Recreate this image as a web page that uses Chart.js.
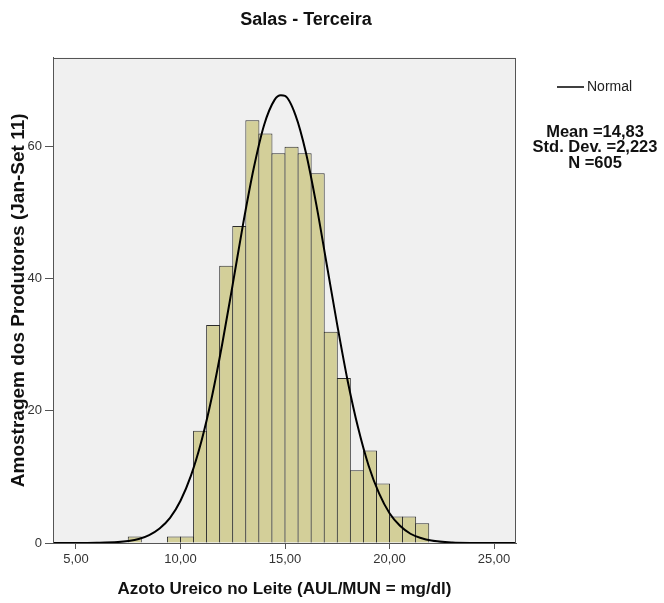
<!DOCTYPE html>
<html>
<head>
<meta charset="utf-8">
<script src="https://cdn.jsdelivr.net/npm/chart.js@4.4.0/dist/chart.umd.min.js"></script>
<style>
  html, body { margin: 0; padding: 0; background: #fff; }
</style>
</head>
<body>
<canvas id="histChart" width="664" height="603"></canvas>
<script>
// Histogram bins (lower edge of each bin, bin width 0.625)
const binWidth = 0.625;
const binStarts = [7.5, 9.375, 10, 10.625, 11.25, 11.875, 12.5, 13.125, 13.75, 14.375,
                   15, 15.625, 16.25, 16.875, 17.5, 18.125, 18.75, 19.375, 20, 20.625, 21.25];
const binCounts = [1, 1, 1, 17, 33, 42, 48, 64, 62, 59,
                   60, 59, 56, 32, 25, 11, 14, 9, 4, 4, 3];

// Normal curve
const curveX = [3.9, 5, 6, 7, 7.5, 8, 8.5, 9, 9.5, 10, 10.5, 11, 11.5, 12, 12.5, 13, 13.5, 14, 14.5, 14.8,
                15, 15.5, 16, 16.5, 17, 17.5, 18, 18.5, 19, 19.5, 20, 20.5, 21, 21.5, 22, 23, 24, 25, 26];
const curveY = [0, 0, 0.03, 0.14, 0.3, 0.6, 1.2, 2.2, 3.8, 6.4, 10.2, 15.4, 22.1, 30.2, 39.2, 48.4, 56.7, 63.3, 67.1, 67.8,
                67.7, 64.8, 59.1, 51.2, 42.1, 33.0, 24.5, 17.4, 11.7, 7.5, 4.5, 2.6, 1.4, 0.75, 0.37, 0.08, 0.01, 0, 0];

// Axis ticks
const xTickValues = [5, 10, 15, 20, 25];
const xTickLabels = ['5,00', '10,00', '15,00', '20,00', '25,00'];
const yTickValues = [0, 20, 40, 60];
const yTickLabels = ['0', '20', '40', '60'];

// Text on the right
const legendLabel = 'Normal';
const statsLines = ['Mean =14,83', 'Std. Dev. =2,223', 'N =605'];

const FONT = "'Liberation Sans', Arial, sans-serif";
const AXIS_COLOR = '#555';

const plotFrame = {
    id: 'plotFrame',
    beforeDraw(chart) {
        const { ctx, chartArea: a } = chart;
        ctx.save();
        ctx.fillStyle = '#f0f0f0';
        ctx.fillRect(a.left, a.top, a.right - a.left, a.bottom - a.top);
        ctx.restore();
    },
    afterDatasetsDraw(chart) {
        const { ctx, chartArea: a } = chart;
        ctx.save();
        ctx.strokeStyle = AXIS_COLOR;
        ctx.lineWidth = 1;
        ctx.strokeRect(Math.round(a.left) + 0.5, Math.round(a.top) + 0.5,
                       Math.round(a.right - a.left) - 1, Math.round(a.bottom - a.top));
        ctx.restore();
    },
    afterDraw(chart) {
        const { ctx } = chart;
        ctx.save();
        // legend sample
        ctx.strokeStyle = '#000';
        ctx.lineWidth = 1.5;
        ctx.beginPath();
        ctx.moveTo(557, 87);
        ctx.lineTo(584, 87);
        ctx.stroke();
        ctx.fillStyle = '#222';
        ctx.font = '14px ' + FONT;
        ctx.textBaseline = 'middle';
        ctx.textAlign = 'left';
        ctx.fillText(legendLabel, 587, 87);
        // stats
        ctx.fillStyle = '#111';
        ctx.font = 'bold 16.5px ' + FONT;
        ctx.textAlign = 'center';
        statsLines.forEach((t, i) => ctx.fillText(t, 595, 132 + i * 15.5));
        ctx.restore();
    }
};

const ctx = document.getElementById('histChart').getContext('2d');

const chart = new Chart(ctx, {
    type: 'bar',
    data: {
        datasets: [
            {
                type: 'line',
                label: legendLabel,
                data: curveX.map((x, i) => ({ x: x, y: curveY[i] })),
                borderColor: '#000',
                borderWidth: 2,
                pointRadius: 0,
                fill: false,
                cubicInterpolationMode: 'monotone',
                order: 0
            },
            {
                type: 'bar',
                label: 'Amostragem',
                data: binStarts.map((s, i) => ({ x: s + binWidth / 2, y: binCounts[i] })),
                backgroundColor: '#d3cf99',
                borderColor: '#2b2b2b',
                borderWidth: 1,
                barPercentage: 1.076,
                categoryPercentage: 1,
                order: 1
            }
        ]
    },
    plugins: [plotFrame],
    options: {
        responsive: false,
        animation: false,
        layout: {
            padding: { left: 0, right: 52, top: 0, bottom: 0 }
        },
        plugins: {
            legend: { display: false },
            tooltip: { enabled: false },
            title: {
                display: true,
                text: 'Salas - Terceira',
                color: '#111',
                font: { family: FONT, size: 18, weight: 'bold' },
                padding: { top: 9, bottom: 27 }
            }
        },
        scales: {
            x: {
                type: 'linear',
                min: 3.9,
                max: 26.05,
                offset: false,
                grid: { offset: false, drawOnChartArea: false, drawTicks: true, tickLength: 6, color: AXIS_COLOR },
                border: { display: true, color: AXIS_COLOR, width: 1 },
                ticks: {
                    color: '#333',
                    font: { family: FONT, size: 13 },
                    padding: 3,
                    maxRotation: 0,
                    autoSkip: false,
                    callback: function(value, index) {
                        return xTickLabels[index];
                    }
                },
                afterBuildTicks: function(scale) {
                    scale.ticks = xTickValues.map(v => ({ value: v }));
                },
                afterFit: function(scale) {
                    scale.height = 60;
                },
                title: {
                    display: true,
                    text: 'Azoto Ureico no Leite (AUL/MUN = mg/dl)',
                    color: '#111',
                    font: { family: FONT, size: 17, weight: 'bold' },
                    padding: { top: 0, bottom: 3 }
                }
            },
            y: {
                type: 'linear',
                position: 'left',
                min: 0,
                max: 73.5,
                grid: { drawOnChartArea: false, drawTicks: true, tickLength: 8, color: AXIS_COLOR },
                border: { display: true, color: AXIS_COLOR, width: 1 },
                ticks: {
                    color: '#333',
                    font: { family: FONT, size: 13 },
                    padding: 3,
                    callback: function(value, index) {
                        return yTickLabels[index];
                    }
                },
                afterBuildTicks: function(scale) {
                    scale.ticks = yTickValues.map(v => ({ value: v }));
                },
                afterFit: function(scale) {
                    scale.width = 53;
                },
                title: {
                    display: true,
                    text: 'Amostragem dos Produtores (Jan-Set 11)',
                    color: '#111',
                    font: { family: FONT, size: 19, weight: 'bold' },
                    padding: { top: 7, bottom: 0 }
                }
            },
            y2: {
                type: 'linear',
                axis: 'y',
                position: 'right',
                grid: { display: false },
                border: { display: false },
                ticks: { display: false },
                afterFit: function(scale) {
                    scale.width = 96;
                }
            }
        }
    }
});
</script>
</body>
</html>
